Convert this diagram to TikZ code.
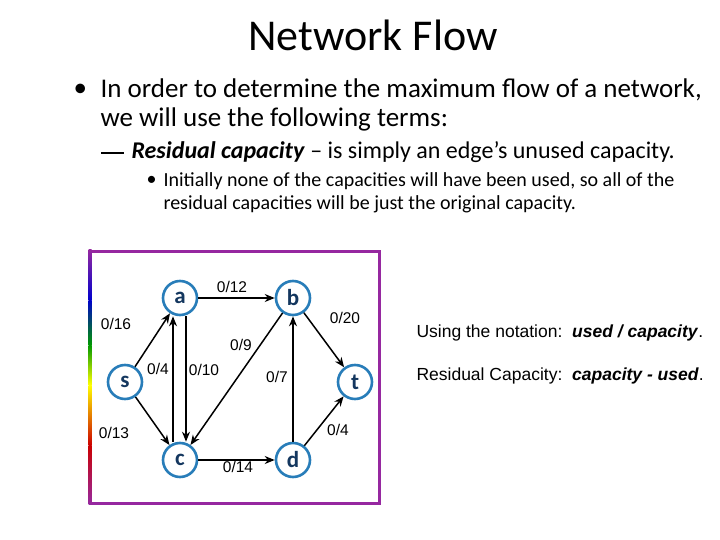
\documentclass[tikz,border=0pt]{standalone}
\usepackage{fontspec}
\setmainfont{Carlito}
\newfontfamily\arialf{Liberation Sans}
\usetikzlibrary{arrows.meta}
\definecolor{nodeblue}{RGB}{40,125,185}
\definecolor{nodetext}{RGB}{20,55,95}
\definecolor{frame}{RGB}{150,40,160}
\begin{document}
\begin{tikzpicture}[x=1pt,y=-1pt,
  vtx/.style={circle,draw=nodeblue,line width=2.6pt,fill=white,minimum size=34pt,inner sep=0pt,font=\fontsize{23}{23}\selectfont\bfseries\color{nodetext}},
  e/.style={-{Stealth[length=10pt,width=8pt]},line width=1.5pt},
  lab/.style={font=\arialf\fontsize{15.5}{15.5}\selectfont}]
\useasboundingbox (0,0) rectangle (720,540);
\node[font=\fontsize{44}{44}\selectfont] at (373,35) {Network Flow};
\node[anchor=west,font=\fontsize{27}{27}\selectfont] at (70,90) {\textbullet};
\node[anchor=west,font=\fontsize{27}{27}\selectfont] at (97,90) {In order to determine the maximum flow of a network,};
\node[anchor=west,font=\fontsize{27}{27}\selectfont] at (97,119) {we will use the following terms:};
\fill (101,152) rectangle (124,154.5);
\node[anchor=west,font=\fontsize{24}{24}\selectfont] at (128,152) {\textbf{\textit{Residual capacity}} \textendash{} is simply an edge’s unused capacity.};
\node[anchor=west,font=\fontsize{20}{20}\selectfont] at (143,181) {\textbullet};
\node[anchor=west,font=\fontsize{20}{20}\selectfont] at (160,181) {Initially none of the capacities will have been used, so all of the};
\node[anchor=west,font=\fontsize{20}{20}\selectfont] at (160,204) {residual capacities will be just the original capacity.};
% frame
\draw[frame,line width=3pt] (90,251) -- (379,251) -- (379,503) -- (90,503);
\shade[top color=frame,bottom color=blue!80!black] (88.5,249.5) rectangle (91.5,300);
\shade[top color=blue!80!black,bottom color=green!60!black] (88.5,300) rectangle (91.5,345);
\shade[top color=green!60!black,bottom color=yellow] (88.5,345) rectangle (91.5,385);
\shade[top color=yellow,bottom color=red!80!black] (88.5,385) rectangle (91.5,445);
\shade[top color=red!80!black,bottom color=frame] (88.5,445) rectangle (91.5,504.5);
% nodes
\node[vtx] (a) at (180,298) {a};
\node[vtx] (b) at (293,298) {b};
\node[vtx] (s) at (125,382) {s};
\node[vtx] (t) at (355,382) {t};
\node[vtx] (c) at (180,460) {c};
\node[vtx] (d) at (293,460) {d};
\draw[e] (a) -- (b);
\draw[e] (s) -- (a);
\draw[e] (s) -- (c);
\draw[e] (b) -- (t);
\draw[e] (d) -- (t);
\draw[e] (c) -- (d);
\draw[e] (d) -- (b);
\draw[e] (b) -- (c);
\draw[e] ([xshift=-7pt]c.north) -- ([xshift=-7pt]a.south);
\draw[e] ([xshift=6pt]a.south) -- ([xshift=6pt]c.north);
% labels
\node[lab] at (232,287) {0/12};
\node[lab] at (116,324) {0/16};
\node[lab] at (345,318) {0/20};
\node[lab] at (241,345) {0/9};
\node[lab] at (158,369) {0/4};
\node[lab] at (204,370) {0/10};
\node[lab] at (277,377) {0/7};
\node[lab] at (114,433) {0/13};
\node[lab] at (338,430) {0/4};
\node[lab] at (238,467) {0/14};
\node[anchor=west,font=\arialf\fontsize{17.5}{17.5}\selectfont] at (413,333) {Using the notation:\ \ \textbf{\textit{used / capacity}}.};
\node[anchor=west,font=\arialf\fontsize{17.5}{17.5}\selectfont] at (413,376) {Residual Capacity:\ \ \textbf{\textit{capacity - used}}.};
\end{tikzpicture}
\end{document}
